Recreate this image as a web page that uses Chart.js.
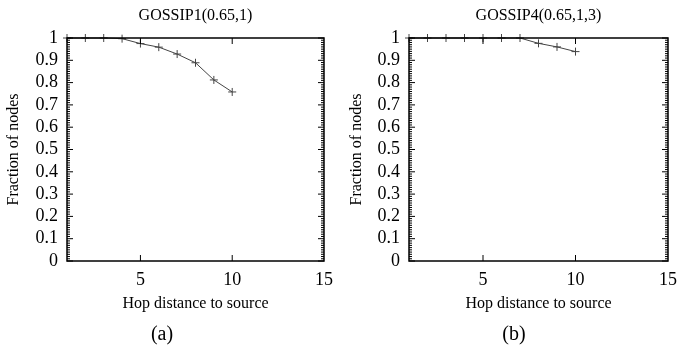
<!DOCTYPE html>
<html>
<head>
<meta charset="utf-8">
<script src="https://cdn.jsdelivr.net/npm/chart.js@4.4.1/dist/chart.umd.min.js"></script>
<style>
  body { margin: 0; background: #fff; width: 677px; height: 350px; overflow: hidden; position: relative; }
  .box { position: absolute; top: 0; height: 350px; }
</style>
</head>
<body>
<div class="box" style="left:0;width:342px"><canvas id="chartA"></canvas></div>
<div class="box" style="left:338px;width:348px"><canvas id="chartB"></canvas></div>
<script>
// hop distance vs fraction of nodes reached
var hops = [1, 2, 3, 4, 5, 6, 7, 8, 9, 10];
var gossip1 = [1, 1, 1, 0.997, 0.975, 0.959, 0.928, 0.889, 0.812, 0.758];
var gossip4 = [1, 1, 1, 1, 1, 1, 1, 0.976, 0.96, 0.939];
var xTicks = [5, 10, 15];
var yTicks = [0, 0.1, 0.2, 0.3, 0.4, 0.5, 0.6, 0.7, 0.8, 0.9, 1];

Chart.defaults.font.family = "'Liberation Serif', 'Times New Roman', serif";
Chart.defaults.color = '#000';

// gnuplot style frame with inward ticks
var framePlugin = {
  id: 'frame',
  afterDraw: function(chart) {
    var ctx = chart.ctx, a = chart.chartArea;
    var xs = chart.scales.x, ys = chart.scales.y;
    ctx.save();
    ctx.strokeStyle = '#000';
    ctx.lineWidth = 1;
    ctx.beginPath();
    xTicks.forEach(function(v) {
      if (v <= xs.min || v >= xs.max) return;
      var px = xs.getPixelForValue(v);
      ctx.moveTo(px, a.bottom); ctx.lineTo(px, a.bottom - 6);
      ctx.moveTo(px, a.top); ctx.lineTo(px, a.top + 6);
    });
    yTicks.forEach(function(v, i) {
      var py = ys.getPixelForValue(v);
      ctx.moveTo(a.left, py); ctx.lineTo(a.left + 6, py);
      ctx.moveTo(a.right, py); ctx.lineTo(a.right - 6, py);
      if (i == yTicks.length - 1) return;
      var next = yTicks[i + 1];
      for (var k = 1; k < 10; k++) {
        var my = ys.getPixelForValue(v + (next - v) * k / 10);
        ctx.moveTo(a.left, my); ctx.lineTo(a.left + 3, my);
        ctx.moveTo(a.right, my); ctx.lineTo(a.right - 3, my);
      }
    });
    ctx.stroke();
    ctx.lineWidth = 1.5;
    ctx.strokeRect(a.left, a.top, a.right - a.left, a.bottom - a.top);
    ctx.restore();
  }
};

function makeChart(id, title, caption, values, pad, axisWidth, yTitlePad) {
  return new Chart(document.getElementById(id), {
    type: 'scatter',
    data: {
      datasets: [{
        data: hops.map(function(h, i) { return { x: h, y: values[i] }; }),
        showLine: true,
        borderColor: '#444',
        borderWidth: 1,
        pointStyle: 'cross',
        pointRadius: 4,
        pointBorderWidth: 1,
        pointBorderColor: '#444',
        clip: false
      }]
    },
    options: {
      responsive: true,
      maintainAspectRatio: false,
      animation: false,
      layout: { padding: pad },
      plugins: {
        legend: { display: false },
        tooltip: { enabled: false },
        title: {
          display: true,
          text: title,
          fullSize: false,
          color: '#000',
          font: { size: 16, weight: 'normal' },
          padding: { top: 6.5, bottom: 12.3 }
        },
        subtitle: {
          display: true,
          text: caption,
          position: 'bottom',
          color: '#000',
          font: { size: 20, weight: 'normal' },
          padding: { top: 5, bottom: 3 }
        }
      },
      scales: {
        x: {
          type: 'linear',
          min: 1,
          max: 15,
          grid: { display: false, drawTicks: false },
          border: { display: false },
          afterBuildTicks: function(s) { s.ticks = xTicks.map(function(v) { return { value: v }; }); },
          afterFit: function(s) { s.height = 57; },
          ticks: { padding: 8, maxRotation: 0, autoSkip: false, color: '#000', font: { size: 18 } },
          title: {
            display: true,
            text: 'Hop distance to source',
            color: '#000',
            font: { size: 16 },
            padding: { top: 0, bottom: 4.4 }
          }
        },
        y: {
          min: 0,
          max: 1,
          grid: { display: false, drawTicks: false },
          border: { display: false },
          afterBuildTicks: function(s) { s.ticks = yTicks.map(function(v) { return { value: v }; }); },
          afterFit: function(s) { s.width = axisWidth; },
          ticks: {
            padding: 9,
            autoSkip: false,
            color: '#000',
            font: { size: 18 },
            callback: function(v) { return String(v); }
          },
          title: {
            display: true,
            text: 'Fraction of nodes',
            color: '#000',
            font: { size: 16 },
            padding: { top: yTitlePad, bottom: 0 }
          }
        }
      }
    },
    plugins: [framePlugin]
  });
}

makeChart('chartA', 'GOSSIP1(0.65,1)', '(a)', gossip1, { left: 0, right: 18, top: 0, bottom: 0 }, 67, 4.3);
makeChart('chartB', 'GOSSIP4(0.65,1,3)', '(b)', gossip4, { left: 22, right: 18, top: 0, bottom: 0 }, 49, -12.6);
</script>
</body>
</html>
